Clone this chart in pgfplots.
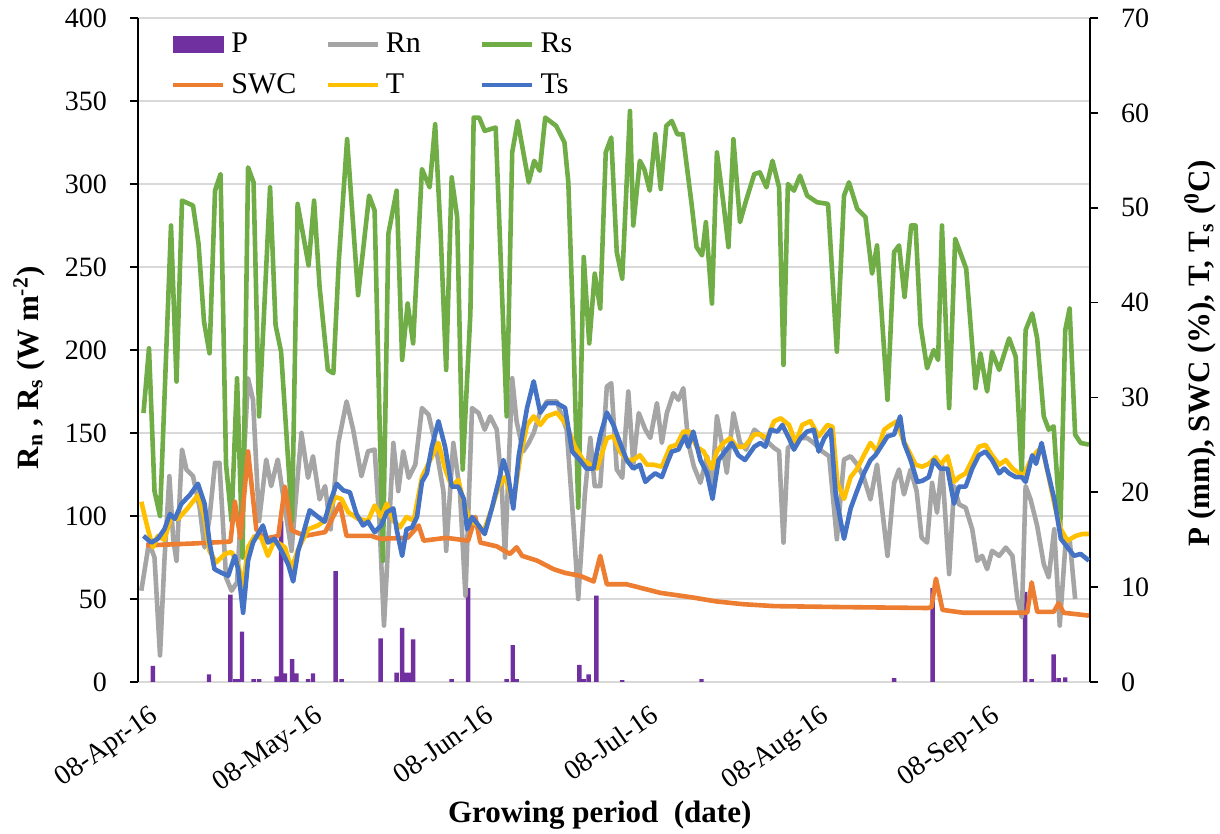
\documentclass[border=0pt]{standalone}
\usepackage{pgfplots}
\usepackage{pgfplotstable}
\pgfplotsset{compat=1.18}
\usepackage{fontspec}
\setmainfont{Liberation Serif}
\definecolor{pcol}{HTML}{7030A0}
\definecolor{rncol}{HTML}{A5A5A5}
\definecolor{rscol}{HTML}{70AD47}
\definecolor{swccol}{HTML}{ED7D31}
\definecolor{tcol}{HTML}{FFC000}
\definecolor{tscol}{HTML}{4472C4}
\definecolor{gridcol}{HTML}{D9D9D9}

% P (mm), daily rainfall
\pgfplotstableread{
d p
2.7 1.7
12.9 0.8
16.8 9.2
17.7 0.3
18.2 0.3
18.9 5.3
21 0.3
22 0.3
25.2 0.6
26 17.0
26.7 0.9
28 2.4
28.8 0.9
30.9 0.3
31.8 0.9
35.9 11.7
37 0.3
44.1 4.6
47 1.0
48 5.7
48.8 1.0
49.4 1.0
50 4.5
57 0.3
60 9.9
67 0.3
68.1 3.9
68.8 0.3
80.2 1.8
81 0.3
81.9 0.8
83.3 9.1
88 0.2
102.4 0.3
137.4 0.4
144.4 9.9
161.2 9.5
162.4 0.3
166.4 2.9
167.3 0.4
168.5 0.5
}\Ptab

% Rs (W m-2)
\pgfplotstableread{
d v
1 162
2 201
3 115
4 100
6 275
7 181
8 290
10 287
11 264
12 217
13 198
14 296
15 306
16 131
17 97
18 183
19 75
20 310
21 301
22 160
24 298
25 215
26 199
28 97
29 288
31 251
32 290
33 238
34.5 188
35.5 186
36.5 254
38 327
40 233
42 293
43 284
44.5 73
45.5 270
47 296
48 194
49 228
50 204
51.6 309
53 298
54 336
55 270
56 188
57 304
58 280
59 128
60.4 222
61 340
62 340
63 332
65 334
67 160
68 319
69 338
71 301
72 314
73 308
74 340
76 335
77.5 325
78.2 301
79 222
80 105
81 256
82 204
83 246
84 225
85 319
86 328
87 259
88 243
89.4 344
90 275
91.2 314
92 309
93 296
94 330
95 297
96 335
97 338
98 330
99 330
100.6 288
101.5 262
102.5 257
103.2 277
104.3 228
105.2 319
106.4 288
107.3 262
108.2 327
109.4 277
110.5 290
112 306
113 307
114.2 298
115.3 314
116.5 298
117.3 191
118.1 300
119.2 296
120.3 305
121.6 293
123.4 289
125.4 288
127 199
128.3 293
129.2 301
130.7 285
132.2 280
133.4 246
134.3 263
136.2 170
137.4 259
138.3 263
139.3 232
140.5 275
141.3 275
142.2 215
143.4 189
144.6 200
145.4 194
146.1 275
147.4 165
148.5 267
149.5 258
150.5 249
152.2 177
153.1 198
154.3 175
155.2 199
156.5 188
158.3 207
159.5 196
160.6 125
161.3 212
162.5 222
163.4 207
164.6 160
165.5 152
166.4 154
167.6 94
168.5 212
169.3 225
170.3 149
171.3 144
172.8 143
}\Rstab

% Rn (W m-2)
\pgfplotstableread{
d v
0.6 55
2 84
3 75
4 16
4.8 73
5.7 124
6.4 86
7 73
8 140
8.8 128
10 124
11.2 105
12.1 81
13 99
14 132
14.8 132
16 63
17 55
18 60
19 120
20 183
20.9 170
22 97
23.3 134
24.2 118
25.4 134
26.7 105
27.9 79
28.8 115
29.7 150
30.9 123
31.8 136
33 110
34 118
35 92
36.4 144
37.9 169
39.1 152
40.6 124
41.8 139
43 140
43.9 95
44.7 34
46.4 144
47.3 115
48.2 139
49.2 123
50.4 131
51.6 165
52.8 161
54 144
55.5 115
56 79
57.3 144
58.5 115
59.5 52
60.7 165
61.9 162
63 152
64 160
65.2 152
66.1 118
66.7 75
68 183
68.8 157
70 139
71 144
71.9 150
73 162
74.3 169
76.1 169
77.9 152
79.1 97
80 50
81.2 113
82.2 147
83 118
84 118
85.2 178
86 180
87 128
88 123
89.1 175
90 131
91 162
92.2 152
93.1 147
94.3 168
95.2 144
96.1 162
97.3 174
98.2 170
99.1 177
100 144
101 130
102.2 120
103.4 136
104.3 118
105.2 160
106.1 144
107 126
108.2 162
109.4 144
110.5 140
112 152
113.1 149
114.3 145
115.6 141
116.5 139
117.3 84
118.1 141
119.2 144
120.4 147
121.6 147
122.8 144
124.3 139
125.6 136
127 86
128.3 134
129.5 136
130.7 131
131.9 123
133.1 110
134.3 131
136.2 76
137.4 120
138.3 128
139.2 113
140.4 128
141.5 115
142.4 87
143.4 84
144.3 120
145.2 102
146.1 131
147.4 65
148.3 118
149.2 107
150.4 105
151.6 92
152.5 73
153.4 76
154.3 68
155.2 79
156.5 76
157.7 81
158.9 76
159.8 50
160.6 39
161.3 118
162.2 110
163.4 94
164.6 71
165.5 63
166.5 92
167.5 34
168.5 81
169.3 86
170.3 50
}\Rntab

% SWC (%)
\pgfplotstableread{
d v
1.5 14.4
10 14.6
16.8 14.8
17.6 19.0
18.6 15.2
20 24.3
21.5 16.1
23 15.1
25.5 15.4
26.7 20.6
27.9 16.0
30.3 15.4
34 15.8
36.7 18.8
37.9 15.4
42.4 15.4
44 15.1
49 15.2
51 16.5
51.9 14.9
56 15.2
60 14.9
61.3 17.4
62.2 14.7
65.2 14.3
67.6 13.5
68.8 14.2
69.8 13.3
72.5 12.8
75.5 11.9
77.6 11.5
80.3 11.2
82.8 10.6
84 13.3
85.2 10.3
88.8 10.3
94.9 9.4
100.9 8.9
105 8.5
110 8.2
115.6 8.0
127.6 7.9
143.5 7.8
144.2 7.9
145 10.9
146.2 7.6
150 7.3
161.6 7.3
162.4 10.5
163.4 7.4
166.4 7.4
167.3 8.3
168.2 7.3
172.8 7.0
}\SWCtab

% T (deg C)
\pgfplotstableread{
d v
0.6 19.0
1.8 16.1
2.7 14.2
3.6 15.4
4.8 15.0
6 17.4
7.3 17.2
9 18.3
10.9 19.7
12.1 17.4
13 13.8
14.2 12.6
15.8 13.5
17 13.7
18.2 12.4
19.1 10.1
20 14.2
21.2 15.4
22.4 15.2
23.6 13.3
24.8 14.9
26.7 14.2
27.9 11.9
29.1 14.0
30.9 16.1
32.7 16.5
33.9 17.0
35.8 19.5
37 19.3
38.2 17.9
40 17.2
41.8 17.0
43 18.6
44.2 17.4
45.2 18.8
46.4 17.0
47.6 16.3
48.8 17.4
50.1 17.0
51.6 21.6
53.1 23.4
54.6 25.2
55.8 22.5
57 20.6
58.2 21.3
59.5 18.3
60.4 17.0
61.9 16.5
62.8 15.8
64.3 18.3
65.5 20.6
66.7 21.6
68.2 18.8
69.5 23.9
70.7 27.1
71.9 28.0
73.1 27.1
74.3 28.0
76.1 28.4
77.9 27.1
79.4 24.8
80.9 23.4
82.2 22.9
83.4 22.5
85.2 25.7
86.4 25.9
87.6 24.3
88.8 23.4
90 23.4
91.2 23.9
92.5 22.9
93.7 22.9
95.2 22.7
96.7 24.8
97.9 25.0
99.1 26.4
100.3 26.4
101.5 24.8
102.8 24.3
104.3 22.5
105.2 24.3
106.4 25.2
107.6 25.7
108.8 24.8
110.2 24.8
112 26.1
113.1 26.1
114.3 25.7
115.6 27.5
116.8 27.8
118.3 27.1
119.5 25.2
120.7 27.1
122.2 27.5
123.7 25.9
125.3 27.1
126.2 26.9
127.1 21.0
128.3 19.3
129.5 21.6
130.7 22.5
131.9 23.9
133.1 25.2
134.3 24.3
135.6 26.6
136.8 27.1
138 27.5
138.9 25.7
140.1 24.3
141.3 22.9
142.5 22.7
143.7 23.0
144.9 23.7
145.8 22.9
147.1 23.8
148.3 21.1
149.2 21.6
150.4 22.0
151.6 23.4
152.8 24.8
154 25.0
155.2 23.9
156.5 22.9
157.7 23.4
158.9 22.5
160.1 22.0
161 21.8
162.2 23.4
163.4 24.3
164.3 24.8
165.5 21.6
166.7 18.3
167.7 16.1
168.9 14.9
170.4 15.4
171.6 15.6
172.8 15.6
}\Ttab

% Ts (deg C)
\pgfplotstableread{
d v
1 15.4
2.4 14.7
3.6 15.1
4.8 16.1
5.8 17.7
6.7 17.2
7.9 18.8
9.4 19.7
10.9 20.9
12.1 18.8
13 14.7
13.9 11.9
15.2 11.5
16.4 11.2
17.6 13.3
18.2 11.9
19.1 7.3
20 12.8
20.9 14.7
21.8 15.6
22.7 16.5
23.6 14.7
24.8 15.1
26.1 13.8
27.3 12.4
28.2 10.6
29.1 13.8
30 15.6
31.2 18.1
32.7 17.4
33.9 16.9
34.8 18.8
36.1 20.9
37.3 20.2
38.5 20.0
39.7 17.7
40.9 16.5
41.8 16.9
43 15.8
44.2 16.5
45.2 17.9
46.4 18.3
47 16.1
48 13.3
48.8 16.1
49.8 16.3
50.7 17.4
51.6 21.1
52.5 22.0
53.4 24.8
54.6 27.5
55.8 24.8
57 20.6
58.2 20.6
59.2 19.3
59.8 16.1
60.7 17.4
61.9 16.5
63 15.6
64.3 18.3
65.5 21.1
66.4 23.4
67.3 21.6
68.2 18.3
69.2 23.9
70.7 28.9
71.9 31.7
73.1 28.4
74.3 29.4
76.1 29.4
77.6 28.9
78.9 24.3
80.3 23.4
81.5 22.5
82.8 22.5
84 26.0
85.2 28.4
86.4 27.1
87.6 25.2
88.8 23.4
90 22.5
91.2 22.9
92.2 21.1
93.1 21.6
94 22.0
95.2 21.6
96.1 23.0
97 24.3
98.2 24.5
99.4 25.9
100 24.8
100.9 26.4
102.2 23.4
103.4 22.0
104.4 19.3
105.5 23.4
106.7 24.3
107.9 25.2
109.1 23.9
110.3 23.4
112 24.8
113.1 25.2
114 24.8
115 26.6
116.2 26.4
117.1 27.1
118.3 25.7
119.2 24.5
120.4 25.7
121.6 26.4
122.8 26.6
123.7 24.3
124.7 25.7
125.9 26.6
126.8 19.7
128.3 15.1
129.5 18.3
130.7 20.2
131.9 22.0
133.1 23.4
134 23.9
135 24.8
136.2 25.9
137.4 26.1
138.5 28.0
139.2 25.2
140.4 23.4
141.6 21.1
142.5 21.2
143.7 21.6
144.6 23.4
145.8 22.5
147.1 22.5
148.3 18.8
149.2 20.6
150.4 20.6
151.6 22.5
152.8 23.9
154 24.3
155.2 23.4
156.5 22.0
157.4 22.5
158.3 22.0
159.5 21.6
160.6 21.6
161.3 21.1
162.5 23.9
163.2 23.0
164.2 25.2
165.2 22.5
166.5 19.3
167.7 15.1
168.9 14.2
170.1 13.3
171.3 13.5
172.8 12.8
}\Tstab

\begin{document}
\begin{tikzpicture}
\pgfplotsset{
  base/.style={
    width=476pt, height=332pt, scale only axis,
    at={(0pt,0pt)}, anchor=south west,
    xmin=0, xmax=173,
    /pgf/number format/assume math mode=true,
    tick label style={font=\fontsize{14}{16}\selectfont},
    tick align=outside, major tick length=4pt,
  },
  ln/.style={line width=2.3pt, line join=round, mark=none},
}
% ---------- left axis: Rn, Rs and P bars (P scaled to the right axis) ----------
\begin{axis}[base,
  ymin=0, ymax=400, ytick={0,50,...,400},
  ymajorgrids, grid style={gridcol, line width=0.8pt},
  axis y line*=left, axis x line*=bottom,
  x axis line style={gridcol, line width=0.8pt, -},
  y axis line style={black, line width=0.8pt, -},
  y tick style={black, line width=0.8pt},
  x tick style={draw=none},
  xtick={0,30,61,91,122,153},
  xticklabels={08-Apr-16,08-May-16,08-Jun-16,08-Jul-16,08-Aug-16,08-Sep-16},
  xticklabel style={xshift=6pt, yshift=-2pt, rotate=35, anchor=north east},
  yticklabel style={xshift=-8pt},
  every axis y label/.style={at={(axis description cs:-0.1145,0.473)}, rotate=90, anchor=center,
    font=\bfseries\fontsize{15.5}{18}\selectfont},
  every axis x label/.style={at={(axis description cs:0.485,-0.2)}, anchor=center,
    font=\bfseries\fontsize{15.5}{18}\selectfont},
  ylabel={R\textsubscript{n} , R\textsubscript{s} (W m\textsuperscript{-2})},
  xlabel={Growing period\ \ (date)},
]
\addplot[ybar, bar width=2.2pt, bar shift=0pt, fill=pcol, draw=none, forget plot]
  table[x=d, y expr=\thisrow{p}*400/70] {\Ptab};
\addplot[ln, rncol, forget plot] table[x=d, y=v] {\Rntab};
\addplot[ln, rscol, forget plot] table[x=d, y=v] {\Rstab};
\end{axis}
% ---------- right axis: SWC, T, Ts ----------
\begin{axis}[base,
  ymin=0, ymax=70, ytick={0,10,...,70},
  axis y line*=right, axis x line=none,
  y axis line style={black, line width=0.8pt, -},
  y tick style={black, line width=0.8pt},
  yticklabel style={xshift=8pt},
  every axis y label/.style={at={(axis description cs:1.1155,0.495)}, rotate=90, anchor=center,
    font=\bfseries\fontsize{15.5}{18}\selectfont},
  ylabel={P (mm), SWC (\%), T, T\textsubscript{s} (\textsuperscript{0}C)},
  legend columns=3,
  legend cell align=left,
  legend style={draw=none, fill=none, at={(axis description cs:0.034,0.978)}, anchor=north west,
    font=\fontsize{15}{17}\selectfont, inner sep=0pt, row sep=9pt,
    nodes={inner sep=0pt},
    /tikz/every odd column/.append style={column sep=3pt},
    /tikz/every even column/.append style={column sep=2pt}},
  legend image code/.code={\draw[#1] (0pt,0pt) -- (25pt,0pt);},
]
\addplot[ln, swccol, forget plot] table[x=d, y=v] {\SWCtab};
\addplot[ln, tcol, forget plot] table[x=d, y=v] {\Ttab};
\addplot[ln, tscol, forget plot] table[x=d, y=v] {\Tstab};
\addlegendimage{legend image code/.code={\fill[pcol] (0pt,-4pt) rectangle (25pt,4pt);}}
\addlegendentry{\makebox[45pt][l]{P}}
\addlegendimage{ln, rncol}
\addlegendentry{\makebox[45pt][l]{Rn}}
\addlegendimage{ln, rscol}
\addlegendentry{\makebox[45pt][l]{Rs}}
\addlegendimage{ln, swccol}
\addlegendentry{\makebox[45pt][l]{SWC}}
\addlegendimage{ln, tcol}
\addlegendentry{\makebox[45pt][l]{T}}
\addlegendimage{ln, tscol}
\addlegendentry{\makebox[45pt][l]{Ts}}
\end{axis}
\pgfresetboundingbox
\path (-69pt,-76pt) rectangle (541pt,341pt);
\end{tikzpicture}
\end{document}
